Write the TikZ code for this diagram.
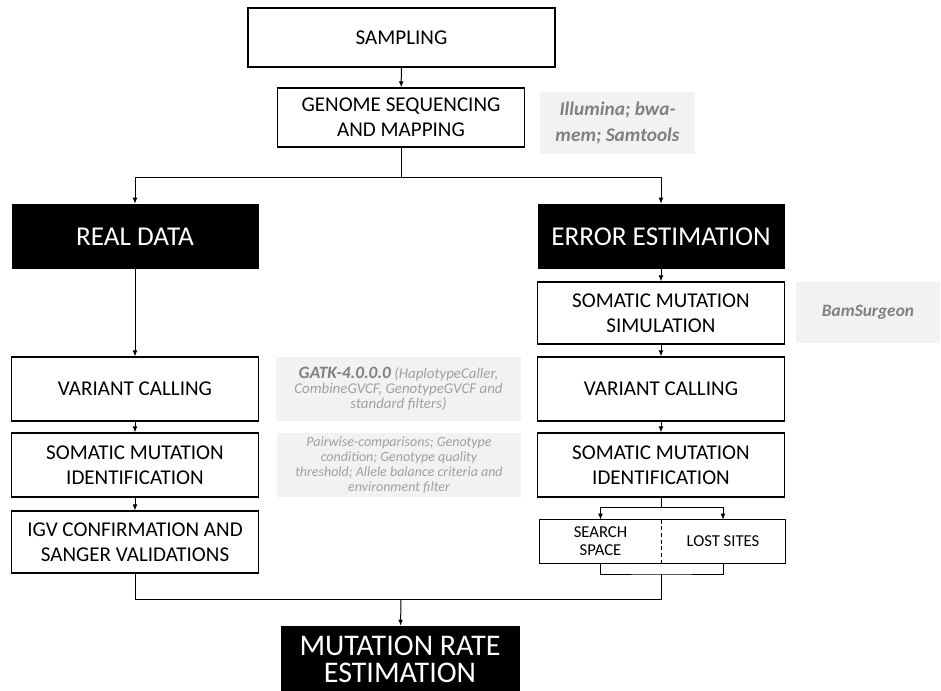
\documentclass[tikz,border=0pt]{standalone}
\usepackage{fontspec}
\setmainfont{Carlito}
\usetikzlibrary{arrows.meta}
\definecolor{notefill}{HTML}{F2F2F2}
\definecolor{noteink}{HTML}{808080}
\definecolor{paleink}{HTML}{A0A0A0}

\begin{document}
\begin{tikzpicture}[x=0.75pt, y=-0.75pt, >={Latex[length=4.5pt,width=3.6pt]},
    box/.style={draw, line width=0.9pt, minimum width=185.25pt, minimum height=47.25pt,
      inner sep=2pt, align=center, font=\fontsize{15.8}{18.75}\selectfont},
    dark/.style={fill=black, text=white, minimum width=185.25pt, minimum height=48.75pt,
      inner sep=2pt, align=center, font=\fontsize{20.4}{21}\selectfont},
    note/.style={fill=notefill, text=noteink, inner sep=2pt, align=center},
    half/.style={minimum height=32.25pt, inner sep=1pt, align=center,
      font=\fontsize{12.5}{13.5}\selectfont},
    line/.style={line width=0.75pt}]
  \useasboundingbox (0,0) rectangle (941,691);

  % top part
  \node[box, minimum width=230.25pt, minimum height=44.25pt] (samp) at (401.5,37.5) {SAMPLING};
  \node[box, minimum height=44.25pt] (genome) at (401,117.5) {GENOME SEQUENCING\\AND MAPPING};
  \node[note, minimum width=116.25pt, minimum height=46.5pt,
    font=\fontsize{14.5}{19.5}\selectfont\bfseries\itshape] (illum) at (617.5,123)
    {Illumina; bwa-\\mem; Samtools};
  \coordinate (split) at (401,178);

  % the two branches
  \node[dark] (real) at (135,236.5) {REAL DATA};
  \node[dark] (error) at (661,236.5) {ERROR ESTIMATION};

  \node[box, minimum height=46.5pt] (simul) at (661,313) {SOMATIC MUTATION\\SIMULATION};
  \node[note, minimum width=108pt, minimum height=45.75pt,
    font=\fontsize{13}{15}\selectfont\bfseries\itshape] (bam) at (868,312.5) {BamSurgeon};

  \node[box, minimum height=48pt] (vcL) at (135,389) {VARIANT CALLING};
  \node[box, minimum height=48pt] (vcR) at (661,389) {VARIANT CALLING};
  \node[note, text=paleink, minimum width=183.75pt, minimum height=48pt,
    font=\fontsize{11.2}{11.5}\selectfont\itshape] (gatk) at (398.5,389)
    {{\fontsize{13}{11.5}\selectfont\bfseries\color{noteink}GATK-4.0.0.0} (HaplotypeCaller,\\
     CombineGVCF, GenotypeGVCF and\\standard filters)};

  \node[box, minimum height=48pt] (smiL) at (135,465) {SOMATIC MUTATION\\IDENTIFICATION};
  \node[box, minimum height=48pt] (smiR) at (661,465) {SOMATIC MUTATION\\IDENTIFICATION};
  \node[note, text=paleink, minimum width=183pt, minimum height=48pt,
    font=\fontsize{10.5}{11.25}\selectfont\itshape] (pair) at (399,465)
    {Pairwise-comparisons; Genotype\\condition; Genotype quality\\
     threshold; Allele balance criteria and\\environment filter};

  \node[box, minimum height=46.5pt] (igv) at (135,542) {IGV CONFIRMATION AND\\SANGER VALIDATIONS};

  % split box on the right
  \coordinate (fork) at (661,507);
  \node[half, minimum width=90.75pt] (search) at (600.5,541.5) {SEARCH\\SPACE};
  \node[half, minimum width=93pt] (lost) at (723,541.5) {LOST SITES};
  \draw[line width=0.9pt] (search.north west) rectangle (lost.south east);
  \draw[line width=0.9pt, dashed, dash pattern=on 3pt off 2pt] (search.north east) -- (search.south east);
  \coordinate (bkt) at (661,574);

  \coordinate (join) at (401,599);
  \node[dark, minimum width=179.25pt, minimum height=49.5pt,
    font=\fontsize{22.5}{20.25}\selectfont] (rate) at (400,659) {MUTATION RATE\\ESTIMATION};

  % connectors
  \draw[line, ->] (samp) -- (genome);
  \draw[line] (genome) -- (split);
  \draw[line, ->] (split) -| (real);
  \draw[line, ->] (split) -| (error);
  \draw[line, ->] (real) -- (vcL);
  \draw[line, ->] (vcL) -- (smiL);
  \draw[line, ->] (smiL) -- (igv);
  \draw[line, ->] (error) -- (simul);
  \draw[line, ->] (simul) -- (vcR);
  \draw[line, ->] (vcR) -- (smiR);
  \draw[line] (smiR) -- (fork);
  \draw[line, ->] (fork) -| (search);
  \draw[line, ->] (fork) -| (lost);
  \draw[line] (search) |- (bkt) -| (lost);
  \draw[line] (bkt) |- (join);
  \draw[line] (igv) |- (join);
  \draw[line, ->] (join) -- (rate);
\end{tikzpicture}
\end{document}
